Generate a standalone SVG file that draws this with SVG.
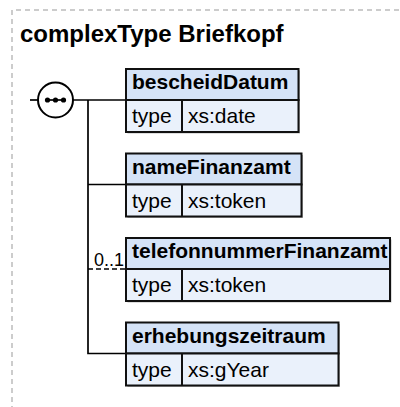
<svg xmlns="http://www.w3.org/2000/svg" width="400" height="407" viewBox="0 0 400 407">
<defs>
<style>
.frame{fill:none;stroke:#999;stroke-width:1;stroke-dasharray:5,4}
.title{font-family:"Liberation Sans",Arial,sans-serif;font-weight:bold;font-size:24px;fill:#000}
.hdr{fill:#d5e3f7;stroke:#111;stroke-width:2}
.row{fill:#eaf1fb;stroke:#111;stroke-width:2}
.shadow{fill:#bbb}
.sep{stroke:#111;stroke-width:2}
.name{font-family:"Liberation Sans",Arial,sans-serif;font-weight:bold;font-size:21px;fill:#000}
.txt{font-family:"Liberation Sans",Arial,sans-serif;font-size:21px;fill:#000}
.occ{font-family:"Liberation Sans",Arial,sans-serif;font-size:18px;fill:#000}
.ln{fill:none;stroke:#000;stroke-width:1.7}
.dash{fill:none;stroke:#000;stroke-width:1.7;stroke-dasharray:5,3}
</style>
</defs>
<rect width="400" height="407" fill="#fff"/>
<path class="frame" d="M12 420 V10 H410"/>
<text class="title" x="20" y="41.5">complexType Briefkopf</text>

<g id="connectors">
<path class="ln" d="M30 100 H38"/>
<path class="ln" d="M73 100 H126"/>
<path class="ln" d="M88 100 V353.5 H126"/>
<path class="ln" d="M88 184.5 H126"/>
<path class="dash" d="M88 269 H126"/>
<text class="occ" x="124" y="266" text-anchor="end">0..1</text>
</g>

<g id="sequence">
<circle cx="55.5" cy="100" r="17.5" fill="#fff" stroke="#000" stroke-width="2"/>
<path d="M45 100 H66" stroke="#000" stroke-width="1.7"/>
<circle cx="47.5" cy="100" r="2.6" fill="#000"/>
<circle cx="55.5" cy="100" r="2.6" fill="#000"/>
<circle cx="63.5" cy="100" r="2.6" fill="#000"/>
</g>

<g id="bescheidDatum" transform="translate(126,69)">
<rect class="shadow" x="1.5" y="1.5" width="172.5" height="63"/>
<rect class="hdr" width="172.5" height="31"/>
<rect class="row" y="31" width="172.5" height="32"/>
<line class="sep" x1="56" y1="31" x2="56" y2="63"/>
<text class="name" x="6" y="20">bescheidDatum</text>
<text class="txt" x="6" y="54.3">type</text>
<text class="txt" x="62" y="54.3">xs:date</text>
</g>

<g id="nameFinanzamt" transform="translate(126,153.5)">
<rect class="shadow" x="1.5" y="1.5" width="175.5" height="63"/>
<rect class="hdr" width="175.5" height="31"/>
<rect class="row" y="31" width="175.5" height="32"/>
<line class="sep" x1="56" y1="31" x2="56" y2="63"/>
<text class="name" x="6" y="20">nameFinanzamt</text>
<text class="txt" x="6" y="54.3">type</text>
<text class="txt" x="62" y="54.3">xs:token</text>
</g>

<g id="telefonnummerFinanzamt" transform="translate(126,238)">
<rect class="shadow" x="1.5" y="1.5" width="264" height="63"/>
<rect class="hdr" width="264" height="31"/>
<rect class="row" y="31" width="264" height="32"/>
<line class="sep" x1="56" y1="31" x2="56" y2="63"/>
<text class="name" x="6" y="20">telefonnummerFinanzamt</text>
<text class="txt" x="6" y="54.3">type</text>
<text class="txt" x="62" y="54.3">xs:token</text>
</g>

<g id="erhebungszeitraum" transform="translate(126,322.5)">
<rect class="shadow" x="1.5" y="1.5" width="212.5" height="63"/>
<rect class="hdr" width="212.5" height="31"/>
<rect class="row" y="31" width="212.5" height="32"/>
<line class="sep" x1="56" y1="31" x2="56" y2="63"/>
<text class="name" x="6" y="20">erhebungszeitraum</text>
<text class="txt" x="6" y="54.3">type</text>
<text class="txt" x="62" y="54.3">xs:gYear</text>
</g>
</svg>
